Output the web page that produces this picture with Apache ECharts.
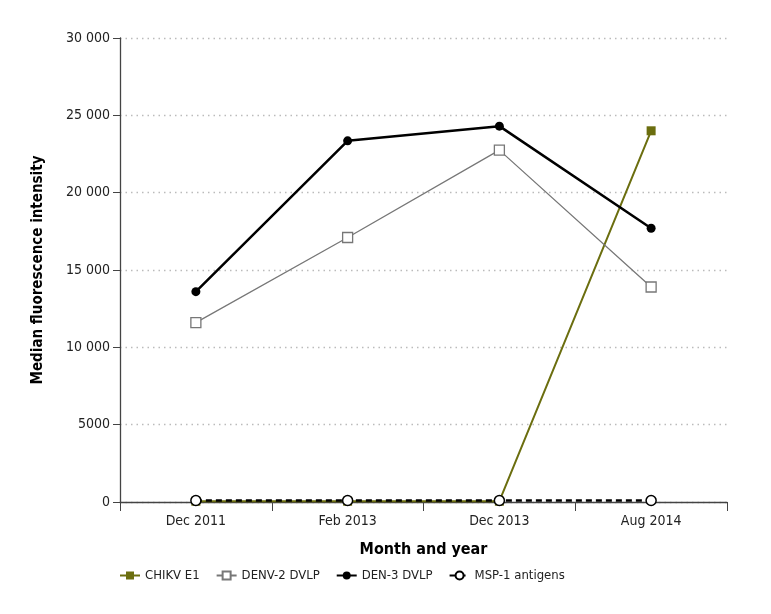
<!DOCTYPE html>
<html><head><meta charset="utf-8">
<script src="https://cdn.jsdelivr.net/npm/echarts@6/dist/echarts.min.js"></script>
<style>html,body{margin:0;padding:0;background:#fff}#c{width:771px;height:614px}</style>
</head><body><div id="c"></div>
<script>
const categories = ['Dec 2011', 'Feb 2013', 'Dec 2013', 'Aug 2014'];
const chikvE1 = [50, 50, 50, 24000];
const denv2 = [11600, 17100, 22750, 13900];
const den3 = [13600, 23350, 24300, 17700];
const msp1 = [100, 100, 100, 100];
const yTicks = [0, 5000, 10000, 15000, 20000, 25000, 30000];

const FONT = '"DejaVu Sans Condensed", "Noto Sans", sans-serif';
const fmt = v => v >= 10000 ? String(v).replace(/(\d+)(\d{3})$/, '$1 $2') : String(v);

const chart = echarts.init(document.getElementById('c'));
chart.setOption({
  animation: false,
  textStyle: { fontFamily: FONT },
  grid: { left: 120, right: 44, top: 38, bottom: 112, containLabel: false },
  legend: {
    bottom: 27, left: 114, itemWidth: 20, itemHeight: 10, itemGap: 16,
    textStyle: { fontFamily: FONT, fontSize: 13, color: '#222' },
    data: ['CHIKV E1', 'DENV-2 DVLP', 'DEN-3 DVLP', 'MSP-1 antigens']
  },
  xAxis: {
    type: 'category', data: categories, boundaryGap: true,
    name: 'Month and year', nameLocation: 'middle', nameGap: 40,
    nameTextStyle: { fontFamily: FONT, fontSize: 16, fontWeight: 'bold', color: '#000' },
    axisLine: { lineStyle: { color: '#444', width: 1.3 } },
    axisTick: { show: true, length: 9, alignWithLabel: false, lineStyle: { color: '#444' } },
    axisLabel: { fontFamily: FONT, fontSize: 14, color: '#222', margin: 12 },
    splitLine: { show: false }
  },
  yAxis: {
    type: 'value', min: 0, max: 30000, interval: 5000,
    name: 'Median fluorescence intensity', nameLocation: 'middle', nameGap: 74,
    nameTextStyle: { fontFamily: FONT, fontSize: 15, fontWeight: 'bold', color: '#000' },
    axisLine: { show: true, lineStyle: { color: '#444', width: 1.3 } },
    axisTick: { show: true, length: 7, lineStyle: { color: '#444' } },
    axisLabel: { fontFamily: FONT, fontSize: 14, color: '#222', margin: 10, formatter: v => yTicks.includes(v) ? fmt(v) : '' },
    splitLine: { show: true, lineStyle: { color: '#bbb', type: [1.5, 4], width: 1.3 } }
  },
  series: [
    {
      name: 'CHIKV E1', type: 'line', data: chikvE1, z: 2,
      symbol: 'rect', symbolSize: [9, 9],
      showSymbol: true,
      itemStyle: { color: '#6b6e0f' },
      lineStyle: { color: '#6b6e0f', width: 2 }
    },
    {
      name: 'DENV-2 DVLP', type: 'line', data: denv2, z: 3,
      symbol: 'rect', symbolSize: 10,
      itemStyle: { color: '#fff', borderColor: '#777', borderWidth: 1.3 },
      lineStyle: { color: '#777', width: 1.3 }
    },
    {
      name: 'DEN-3 DVLP', type: 'line', data: den3, z: 4,
      symbol: 'circle', symbolSize: 9,
      itemStyle: { color: '#000' },
      lineStyle: { color: '#000', width: 2.5 }
    },
    {
      name: 'MSP-1 antigens', type: 'line', data: msp1, z: 5,
      symbol: 'circle', symbolSize: 10,
      itemStyle: { color: '#fff', borderColor: '#000', borderWidth: 1.5 },
      lineStyle: { color: '#000', width: 2.5, type: [6, 4] }
    }
  ]
});
</script></body></html>
